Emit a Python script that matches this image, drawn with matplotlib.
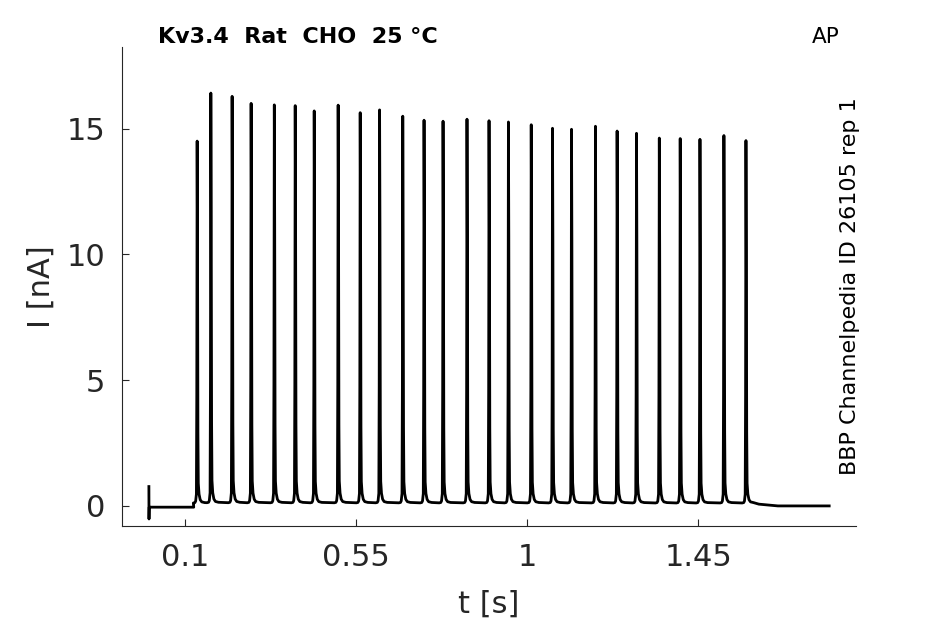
import numpy as np
import matplotlib.pyplot as plt

# spike times [s] and peak currents [nA]
spike_t = [0.132, 0.168, 0.224, 0.274, 0.335, 0.390, 0.440, 0.503, 0.561,
           0.612, 0.673, 0.729, 0.779, 0.842, 0.900, 0.951, 1.011, 1.067,
           1.117, 1.180, 1.237, 1.288, 1.348, 1.403, 1.455, 1.518, 1.576]
spike_peak = [14.48, 16.39, 16.26, 15.98, 15.92, 15.89, 15.68, 15.91, 15.61,
              15.72, 15.47, 15.31, 15.27, 15.35, 15.29, 15.24, 15.13, 14.99,
              14.95, 15.07, 14.88, 14.79, 14.60, 14.58, 14.55, 14.70, 14.50]

# one spike, sampled: offset from peak [s] and fraction of the peak
spike_dt = [-0.010, -0.006, -0.004, -0.002, -0.001, 0.0, 0.001, 0.002,
            0.003, 0.005, 0.008, 0.012, 0.020]
spike_frac = [0.006, 0.007, 0.011, 0.03, 0.3, 1.0, 0.7, 0.2,
              0.06, 0.03, 0.015, 0.009, 0.007]

# start (artifact + baseline) and end of the recording
start_t = [0.005, 0.0053, 0.0058, 0.123]
start_i = [0.77, -0.52, -0.05, -0.05]
end_t = [1.61, 1.66, 1.795]
end_i = [0.07, 0.0, 0.0]

t = list(start_t)
i = list(start_i)
for tk, pk in zip(spike_t, spike_peak):
    for d, f in zip(spike_dt, spike_frac):
        t.append(tk + d)
        i.append(0.03 + pk * f)
t += end_t
i += end_i

fig = plt.figure(figsize=(9.45, 6.24), dpi=100)
ax = fig.add_axes([0.129, 0.157, 0.777, 0.768])
ax.plot(t, i, color='black', lw=2)

ax.set_xlim(-0.066, 1.866)
ax.set_ylim(-0.8, 18.26)
ax.set_xticks([0.1, 0.55, 1, 1.45])
ax.set_xticklabels(['0.1', '0.55', '1', '1.45'])
ax.set_yticks([0, 5, 10, 15])
ax.tick_params(direction='in', length=5, width=0.8, labelsize=22, pad=12,
               colors='#262626')
for s in ['top', 'right']:
    ax.spines[s].set_visible(False)
for s in ['left', 'bottom']:
    ax.spines[s].set_color('#262626')
    ax.spines[s].set_linewidth(0.8)
ax.set_xlabel('t [s]', fontsize=22, color='#262626', labelpad=13)
ax.set_ylabel('I [nA]', fontsize=22, color='#262626', labelpad=8)

fig.text(0.167, 0.925, 'Kv3.4  Rat  CHO  25 °C', fontsize=16, fontweight='bold',
         ha='left', va='bottom')
fig.text(0.888, 0.925, 'AP', fontsize=15.5, ha='right', va='bottom')
fig.text(0.9, 0.239, 'BBP Channelpedia ID 26105 rep 1', fontsize=16,
         rotation=90, ha='center', va='bottom')

fig.savefig('out.png', dpi=100)
